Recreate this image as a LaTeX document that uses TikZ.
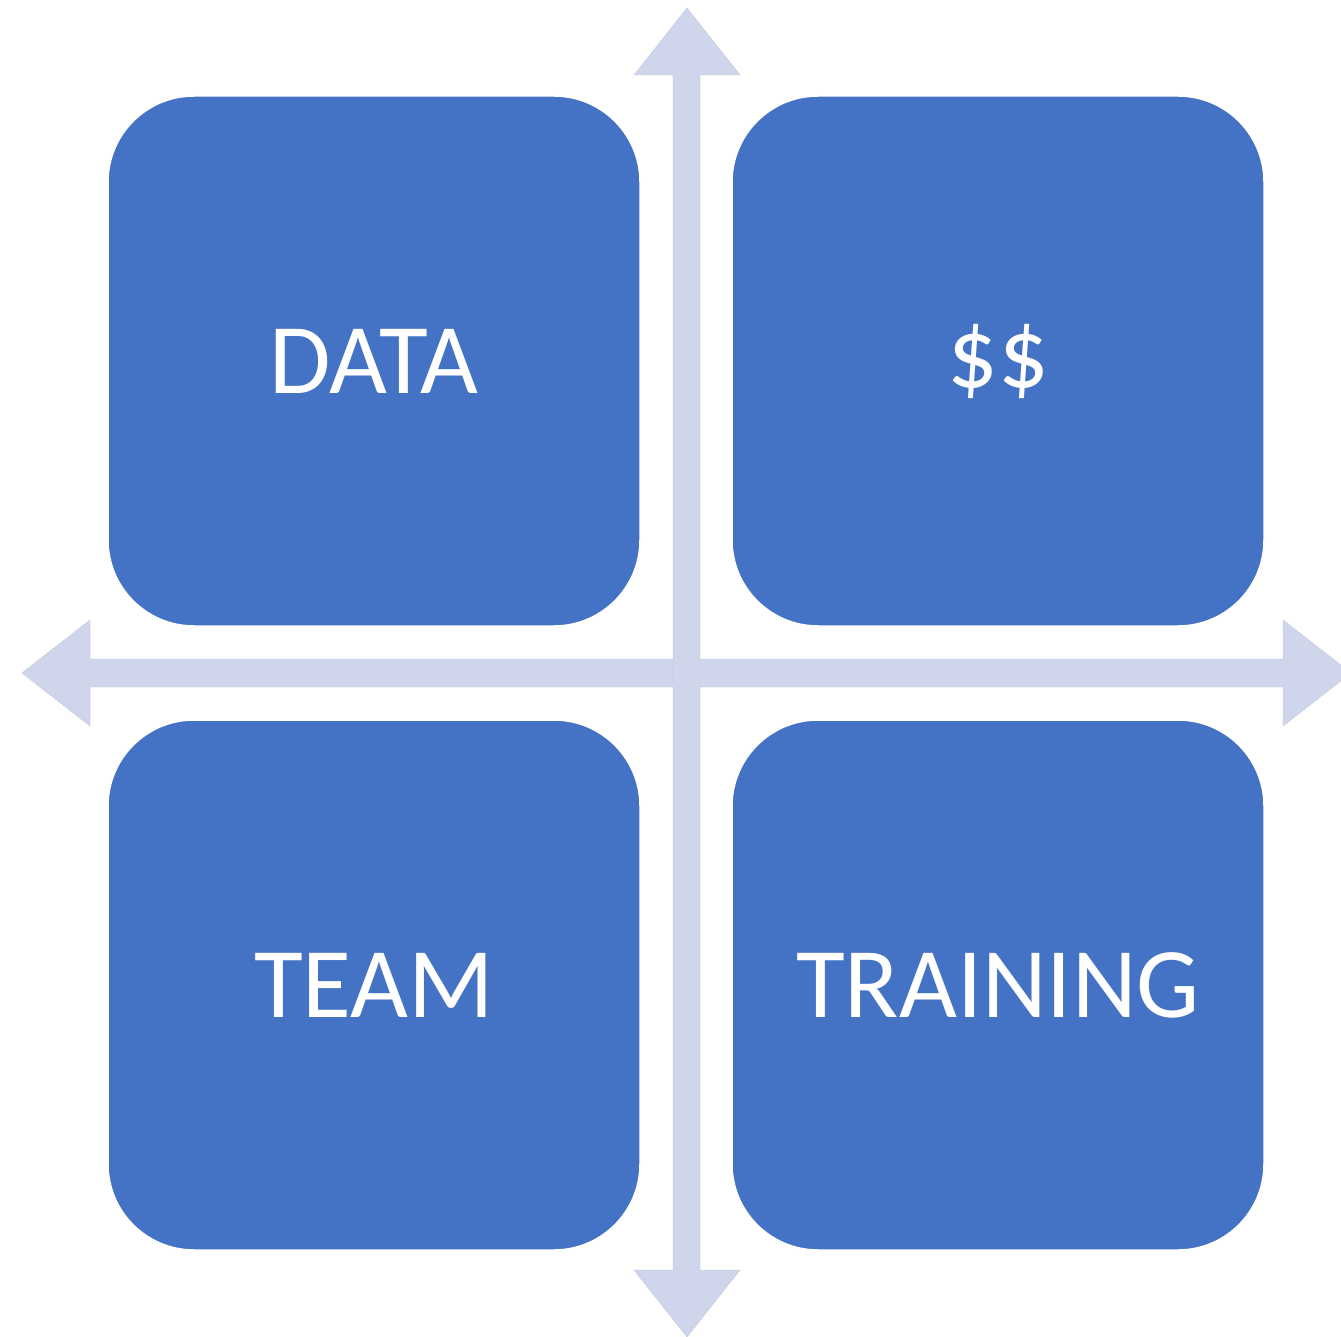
\documentclass[tikz,border=0pt]{standalone}
\usepackage{fontspec}
\setmainfont{Carlito}
\definecolor{boxblue}{HTML}{4472C4}
\definecolor{arrowlav}{HTML}{CFD5EA}
\begin{document}
\begin{tikzpicture}[x=1pt,y=-1pt,
  quad/.style={rectangle, rounded corners=86pt, minimum width=532pt, minimum height=530pt,
    inner sep=0pt, fill=boxblue, draw=white, line width=1.5pt, text=white,
    font=\fontsize{100}{120}\selectfont},
  dblarrow/.style={fill=arrowlav, draw=arrowlav!85!gray, line width=0.4pt}]
\useasboundingbox (0,0) rectangle (1341,1337);
\clip (0,0) rectangle (1341,1337);
% horizontal double arrow
\coordinate (hl) at (22,673);
\coordinate (hr) at (1351,673);
\fill[dblarrow] (hl) -- (90,620) -- (90,659) -- (1283,659) -- (1283,620) -- (hr)
  -- (1283,726) -- (1283,687) -- (90,687) -- (90,726) -- cycle;
% vertical double arrow
\coordinate (vt) at (687,8);
\coordinate (vb) at (687,1337);
\fill[dblarrow] (vt) -- (740,75) -- (700,75) -- (700,1270) -- (740,1270) -- (vb)
  -- (634,1270) -- (673,1270) -- (673,75) -- (634,75) -- cycle;
\fill[arrowlav] (673.5,659.5) rectangle (699.5,686.5);
% quadrants
\node[quad] (data) at (374,361) {DATA};
\node[quad] (money) at (998,361) {\$\$};
\node[quad] (team) at (374,985) {TEAM};
\node[quad] (training) at (998,985) {TRAINING};
\end{tikzpicture}
\end{document}
